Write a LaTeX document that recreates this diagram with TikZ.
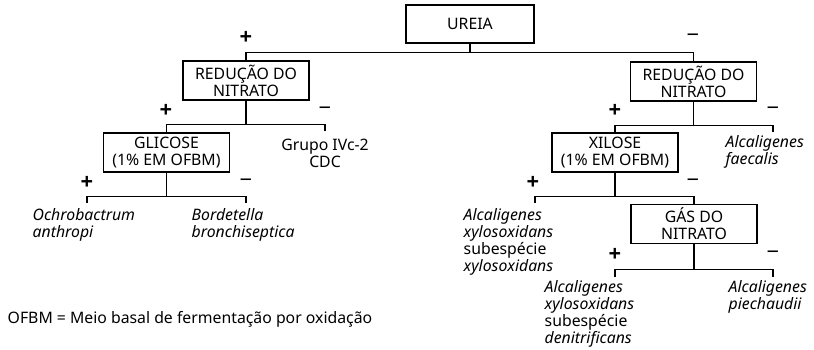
\documentclass[tikz,border=0pt]{standalone}
\usepackage{fontspec}
\setmainfont{Noto Sans}
\newfontfamily\sinalfont{Open Sans}
\usetikzlibrary{positioning}
\begin{document}
\begin{tikzpicture}
[x=1pt, y=-1pt, line width=1.4pt,
teste/.style={rectangle, draw, align=center, inner sep=0pt, minimum width=126pt, minimum height=39pt, font=\fontsize{15.8}{17}\selectfont},
grupo/.style={align=center, inner sep=0pt, font=\fontsize{15.8}{17}\selectfont},
especie/.style={align=left, inner sep=0pt, anchor=north west, font=\fontsize{15.8}{17}\selectfont\itshape},
mais/.style={inner sep=0pt, font=\sinalfont\fontsize{22}{22}\selectfont\bfseries},
menos/.style={inner sep=0pt, font=\fontsize{22}{22}\selectfont}]

\useasboundingbox (0,0) rectangle (814,349);

% caixas de teste
\node[teste, minimum width=128pt, minimum height=38pt] (ureia) at (470,24) {UREIA};
\node[teste] (nit1) at (246,80.5) {REDUÇÃO DO\\NITRATO};
\node[teste] (nit2) at (693.5,81.5) {REDUÇÃO DO\\NITRATO};
\node[teste] (glic) at (166.5,152.5) {GLICOSE\\(1\% EM OFBM)};
\node[teste] (xil) at (615,152.5) {XILOSE\\(1\% EM OFBM)};
\node[teste] (gas) at (694,224) {GÁS DO\\NITRATO};

% resultados
\node[grupo] (ivc) at (325,153) {Grupo IVc-2\\CDC};
\node[especie] (ochro) at (32,208) {Ochrobactrum\\anthropi};
\node[especie] (bord) at (191,208) {Bordetella\\bronchiseptica};
\node[especie] (faec) at (725,135) {Alcaligenes\\faecalis};
\node[especie] (xylo) at (463,208) {Alcaligenes\\xylosoxidans\\{\upshape subespécie}\\xylosoxidans};
\node[especie] (deni) at (544,280) {Alcaligenes\\xylosoxidans\\{\upshape subespécie}\\denitrificans};
\node[especie] (piech) at (728,280) {Alcaligenes\\piechaudii};
\node[grupo, anchor=west] (legenda) at (7,319) {OFBM = Meio basal de fermentação por oxidação};

% pontas livres
\coordinate (t1) at (325,131);
\coordinate (t2) at (773,132);
\coordinate (t3) at (87,203);
\coordinate (t4) at (246,203);
\coordinate (t5) at (535,203);
\coordinate (t6) at (615,277);
\coordinate (t7) at (773,277);

% ramos
\draw (ureia.south) -- ++(0,9) coordinate (u1);
\draw (nit1.north) |- (u1) -| (nit2.north);
\draw (nit1.south) -- ++(0,24) coordinate (u2);
\draw (glic.north) |- (u2) -| (t1);
\draw (nit2.south) -- ++(0,24) coordinate (u3);
\draw (xil.north) |- (u3) -| (t2);
\draw (glic.south) -- ++(0,24) coordinate (u4);
\draw (t3) |- (u4) -| (t4);
\draw (xil.south) -- ++(0,24) coordinate (u5);
\draw (t5) |- (u5) -| (gas.north);
\draw (gas.south) -- ++(0,25) coordinate (u6);
\draw (t6) |- (u6) -| (t7);

% sinais
\node[mais] (p1) at (246,38) {+};
\node[menos] (m1) at (693,38) {−};
\node[mais] (p2) at (166,111) {+};
\node[menos] (m2) at (325,111) {−};
\node[mais] (p3) at (615,111) {+};
\node[menos] (m3) at (773,111) {−};
\node[mais] (p4) at (87,183) {+};
\node[menos] (m4) at (246,183) {−};
\node[mais] (p5) at (533,183) {+};
\node[menos] (m5) at (693,183) {−};
\node[mais] (p6) at (615,255) {+};
\node[menos] (m6) at (773,255) {−};

\end{tikzpicture}
\end{document}
